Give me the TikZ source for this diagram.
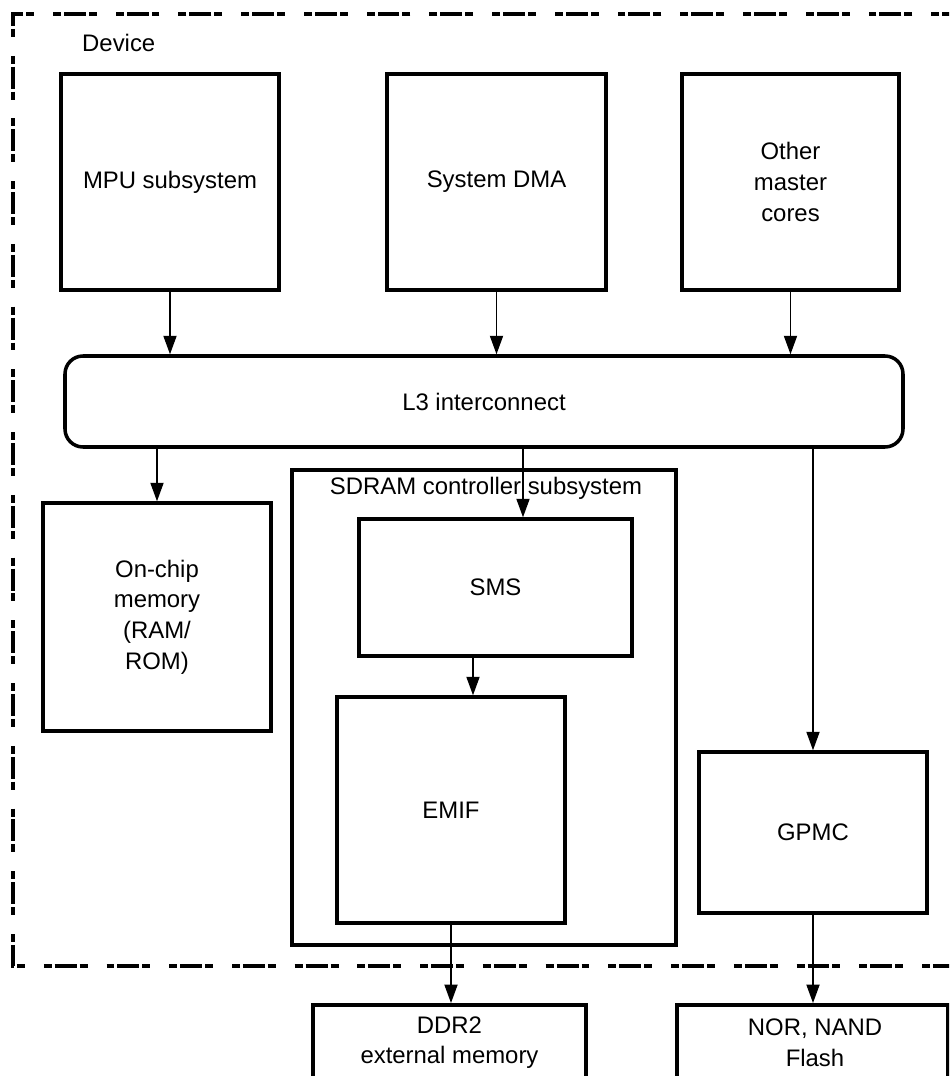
\documentclass[tikz,border=0pt]{standalone}
\usepackage{fontspec}
\setmainfont{Liberation Sans}
\usetikzlibrary{arrows.meta,positioning,calc}

\begin{document}
\begin{tikzpicture}[
  font=\fontsize{13.6}{17.4}\selectfont,
  blk/.style={draw,line width=2pt,align=center,inner sep=2pt},
  arr/.style={-{Triangle[length=10.5pt,width=7.5pt]},line width=0.7pt},
  dev/.style={line width=2.2pt,
    dash pattern=on 4.5pt off 1.7pt on 12.5pt off 1.7pt on 4.5pt off 10.8pt}
]
\useasboundingbox (0,0) rectangle (18.98,21.52);
\clip (0,0) rectangle (18.98,21.52);

\draw[dev] (19.5,21.24) -- (0.26,21.24) -- (0.26,2.2) -- (19.5,2.2);
\node[anchor=west] (devlbl) at (1.52,20.66) {Device};

\node[blk,minimum width=4.36cm,minimum height=4.32cm] (mpu) at (3.40,17.88) {MPU subsystem};
\node[blk,minimum width=4.38cm,minimum height=4.32cm] (dma) at (9.93,17.88) {System DMA};
\node[blk,minimum width=4.34cm,minimum height=4.32cm] (oth) at (15.81,17.88) {Other\\master\\cores};
\node[blk,rounded corners=0.36cm,minimum width=16.76cm,minimum height=1.82cm] (l3) at (9.68,13.49) {L3 interconnect};

\node[blk,minimum width=4.56cm,minimum height=4.56cm] (ocm) at (3.14,9.18) {On-chip\\memory\\(RAM/\\ROM)};
\node[blk,minimum width=7.68cm,minimum height=9.5cm] (sdrc) at (9.68,7.37) {};
\node (sdrclbl) at (9.72,11.76) {SDRAM controller subsystem};
\node[blk,minimum width=5.46cm,minimum height=2.74cm] (sms) at (9.91,9.77) {SMS};
\node[blk,minimum width=4.56cm,minimum height=4.52cm] (emif) at (9.02,5.32) {EMIF};
\node[blk,minimum width=4.56cm,minimum height=3.22cm] (gpmc) at (16.26,4.87) {GPMC};

\node[blk,anchor=north,minimum width=5.46cm,minimum height=2cm] (ddr) at (8.99,1.46) {};
\node[align=center] (ddrlbl) at (8.99,0.67) {DDR2\\external memory};
\node[blk,anchor=north,minimum width=5.42cm,minimum height=2cm] (nor) at (16.25,1.46) {};
\node[align=center] (norlbl) at (16.30,0.67) {NOR, NAND\\Flash};

\coordinate (smsin) at ([xshift=0.55cm]sms.north);
\coordinate (emifin) at ([xshift=0.44cm]emif.north);

\draw[arr] (mpu.south) -- (mpu.south |- l3.north);
\draw[arr] (dma.south) -- (dma.south |- l3.north);
\draw[arr] (oth.south) -- (oth.south |- l3.north);
\draw[arr] (l3.south -| ocm.north) -- (ocm.north);
\draw[arr] (smsin |- l3.south) -- (smsin);
\draw[arr] (emifin |- sms.south) -- (emifin);
\draw[arr] (l3.south -| gpmc.north) -- (gpmc.north);
\draw[arr] (emif.south) -- (emif.south |- ddr.north);
\draw[arr] (gpmc.south) -- (gpmc.south |- nor.north);
\end{tikzpicture}
\end{document}
